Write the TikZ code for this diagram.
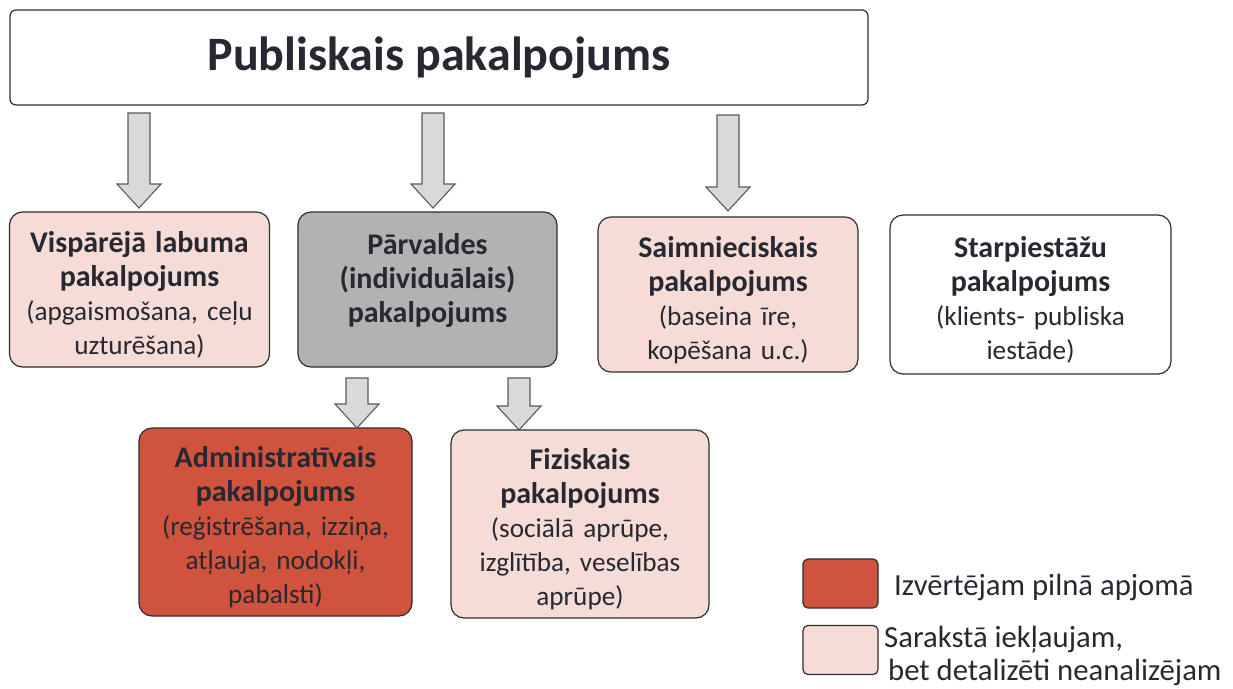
\documentclass[tikz,border=0pt]{standalone}
\usepackage{fontspec}
\setmainfont{Carlito}
\usetikzlibrary{calc}
\definecolor{txt}{RGB}{40,40,50}
\definecolor{pinkf}{RGB}{246,220,215}
\definecolor{redf}{RGB}{208,83,61}
\definecolor{grayf}{RGB}{178,178,178}
\definecolor{arrf}{RGB}{217,217,217}
\definecolor{arrd}{RGB}{90,90,90}
\definecolor{bord}{RGB}{45,45,45}
\newcommand\bl[1]{{\fontsize{30}{34}\selectfont\bfseries #1}}
\newcommand\tp{\rule{0pt}{32pt}}
\newcommand\blockarr[2]{%
  \draw[blkarrow] let \p1=(#1), \p2=(#2) in
  (\x2-11pt,\y1) -- (\x2+11pt,\y1) -- (\x2+11pt,\y2+24pt) -- (\x2+22pt,\y2+24pt)
  -- (\x2,\y2) -- (\x2-22pt,\y2+24pt) -- (\x2-11pt,\y2+24pt) -- cycle;}
\begin{document}
\begin{tikzpicture}[x=1pt,y=-1pt,
  every node/.style={text=txt},
  pbox/.style={draw=bord, line width=1.2pt, rounded corners=13pt, align=center,
    inner sep=0pt, font=\fontsize{27.2}{34}\selectfont},
  blkarrow/.style={draw=arrd, fill=arrf, line width=1.1pt, line join=miter},
  legbox/.style={draw=bord, line width=1.2pt, rounded corners=5pt, minimum width=75pt, minimum height=49pt, inner sep=0pt},
  legtxt/.style={font=\fontsize{30.7}{34}\selectfont, inner sep=0pt, anchor=base west}]
\useasboundingbox (0,0) rectangle (1233,688);
% title
\node[draw=bord, line width=1.2pt, rounded corners=6pt, fill=white, minimum width=858pt, minimum height=95pt, inner sep=0pt,
  font=\fontsize{48}{52}\selectfont\bfseries] (title) at (439,57.5) {Publiskais pakalpojums};
% row 1
\node[pbox, fill=pinkf, minimum width=260pt, minimum height=155pt, text width=254pt] (A) at (139.5,289.5)
  {\bl{\tp Vispārējā labuma}\\\bl{pakalpojums}\\(apgaismošana, ceļu\\uzturēšana)};
\node[pbox, fill=grayf, minimum width=259pt, minimum height=155pt, text width=254pt] (B) at (427.5,289.5)
  {\bl{\tp Pārvaldes}\\\bl{(individuālais)}\\\bl{pakalpojums}\\\mbox{}};
\node[pbox, fill=pinkf, minimum width=260pt, minimum height=155pt, text width=254pt] (C) at (728,294.5)
  {\bl{\tp Saimnieciskais}\\\bl{pakalpojums}\\(baseina īre,\\kopēšana u.c.)};
\node[pbox, fill=white, minimum width=281pt, minimum height=159pt, text width=274pt] (D) at (1030.5,294.5)
  {\bl{\tp Starpiestāžu}\\\bl{pakalpojums}\\(klients- publiska\\iestāde)};
% row 2
\node[pbox, fill=redf, minimum width=273pt, minimum height=188pt, text width=268pt] (E) at (275.5,522)
  {\bl{\tp Administratīvais}\\\bl{pakalpojums}\\(reģistrēšana, izziņa,\\atļauja, nodokļi,\\pabalsti)};
\node[pbox, fill=pinkf, minimum width=258pt, minimum height=188pt, text width=254pt] (F) at (580,524)
  {\bl{\tp Fiziskais}\\\bl{pakalpojums}\\(sociālā aprūpe,\\izglītība, veselības\\aprūpe)};
% arrows
\coordinate (s1) at (139,113); \coordinate (e1) at (139,208);
\coordinate (s2) at (433,113); \coordinate (e2) at (433,208);
\coordinate (s3) at (728,115); \coordinate (e3) at (728,211);
\coordinate (s4) at (357,378); \coordinate (e4) at (357,428);
\coordinate (s5) at (519,378); \coordinate (e5) at (519,430);
\blockarr{s1}{e1}
\blockarr{s2}{e2}
\blockarr{s3}{e3}
\blockarr{s4}{e4}
\blockarr{s5}{e5}
% legend
\node[legbox, fill=redf] (L1) at (840.5,583.5) {};
\node[legbox, fill=pinkf] (L2) at (840.5,650) {};
\node[legtxt] (L1t) at (894,595) {Izvērtējam pilnā apjomā};
\node[legtxt] (L2t) at (884,647) {Sarakstā iekļaujam,};
\node[legtxt] (L2u) at (888,680) {bet detalizēti neanalizējam};
\end{tikzpicture}
\end{document}
